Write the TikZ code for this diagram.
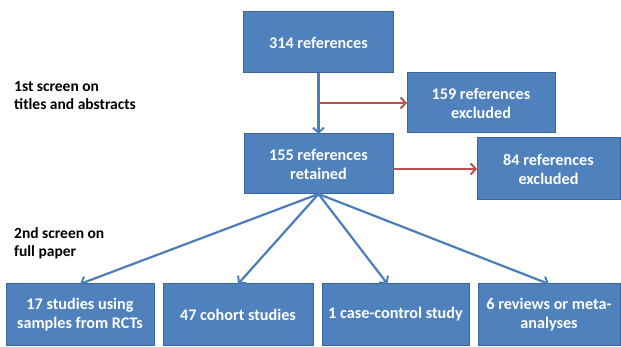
\documentclass[tikz,border=0pt]{standalone}
\usepackage{fontspec}
\setmainfont{Carlito}
\usepackage{tikz}
\usetikzlibrary{arrows.meta,positioning,calc}
\definecolor{boxfill}{HTML}{4F81BD}
\definecolor{boxline}{HTML}{3A659A}
\definecolor{bluearrow}{HTML}{4A7EBB}
\definecolor{redarrow}{HTML}{C0504D}
\tikzset{
    refbox/.style={draw=boxline, fill=boxfill, line width=1pt, text=white, font=\fontsize{16.2}{19}\selectfont\bfseries,
        align=center, inner sep=0pt, outer sep=0pt, minimum height=61pt},
    screenlabel/.style={font=\fontsize{15.5}{18}\selectfont\bfseries, align=left, anchor=north west, inner sep=0pt},
    bluelink/.style={draw=bluearrow, line width=2.2pt, -{Straight Barb[length=5pt,width=11pt,line width=2pt]}},
    redlink/.style={draw=redarrow, line width=2.2pt, -{Straight Barb[length=5pt,width=11pt,line width=2pt]}}
}
\begin{document}
\begin{tikzpicture}[x=1pt, y=-1pt]
    \useasboundingbox (0,0) rectangle (621,347);

    % first screen
    \node[refbox, minimum width=150pt] (ref314) at (318.5,42.5) {314 references};
    \node[refbox, minimum width=148pt, minimum height=60pt] (exc159) at (481,103) {159 references\\excluded};
    \node[refbox, minimum width=149pt, minimum height=60pt] (ret155) at (318.5,164) {155 references\\retained};
    \node[refbox, minimum width=143pt, minimum height=62pt] (exc84) at (548.5,169) {84 references\\excluded};

    % second screen
    \node[refbox, minimum width=148pt] (rct) at (80,314.5) {17 studies using\\samples from RCTs};
    \node[refbox, minimum width=150pt] (cohort) at (238,314.5) {47 cohort studies};
    \node[refbox, minimum width=147pt] (casectl) at (395.5,314.5) {1 case-control study};
    \node[refbox, minimum width=142pt] (review) at (549,314.5) {6 reviews or meta-\\analyses};

    % screen labels
    \node[screenlabel] (screen1) at (14,81) {1st screen on\\titles and abstracts};
    \node[screenlabel] (screen2) at (14,227) {2nd screen on\\full paper};

    % connections
    \draw[bluelink] (ref314) -- (ret155);
    \draw[redlink] (ref314.south |- exc159.west) -- (exc159.west);
    \draw[redlink] (ret155.east |- exc84.west) -- (exc84.west);
    \draw[bluelink] (ret155.south) -- (rct.north);
    \draw[bluelink] (ret155.south) -- (cohort.north);
    \draw[bluelink] (ret155.south) -- ($(casectl.north)+(-8,0)$);
    \draw[bluelink] (ret155.south) -- (review.north);
\end{tikzpicture}
\end{document}
